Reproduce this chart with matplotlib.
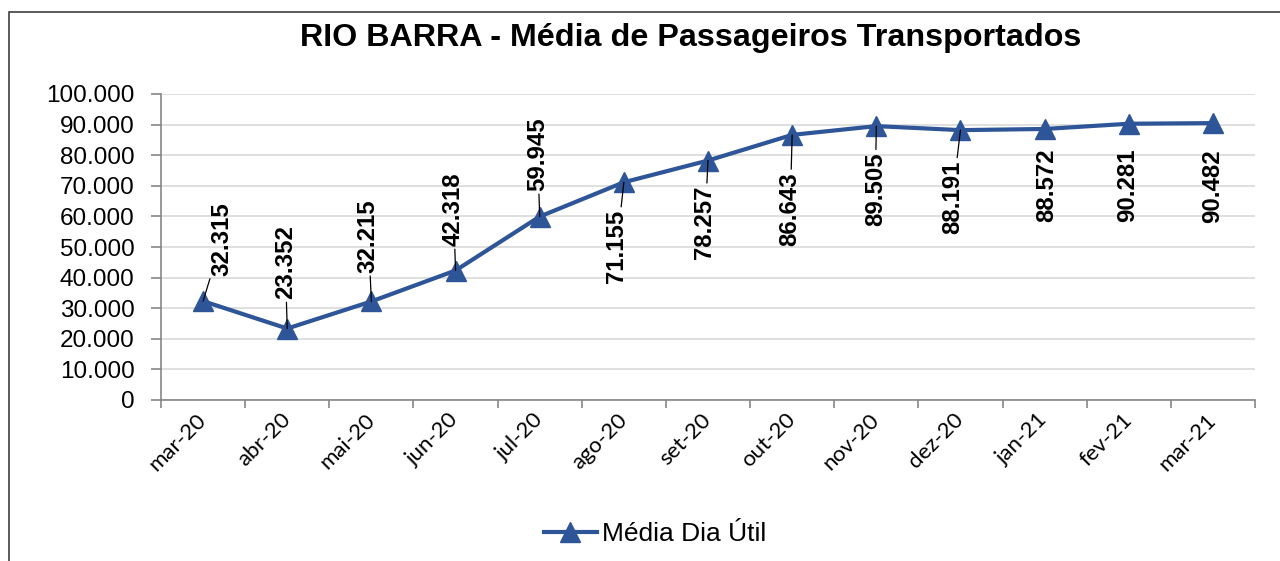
import matplotlib
matplotlib.use("Agg")
import matplotlib.pyplot as plt
from matplotlib.patches import Rectangle
from matplotlib.ticker import FuncFormatter, FixedLocator

# ---- data ----
months = ["mar-20", "abr-20", "mai-20", "jun-20", "jul-20", "ago-20", "set-20",
          "out-20", "nov-20", "dez-20", "jan-21", "fev-21", "mar-21"]
media_dia_util = [32315, 23352, 32215, 42318, 59945, 71155, 78257,
                  86643, 89505, 88191, 88572, 90281, 90482]
series_name = "Média Dia Útil"
title = "RIO BARRA - Média de Passageiros Transportados"
y_ticks = [0, 10000, 20000, 30000, 40000, 50000, 60000, 70000, 80000, 90000, 100000]

# ---- label placement (pixel offsets from point, style only) ----
label_dx = [19, -2, -3, -2, -2, -7, -3, -2, -1, -8, 2, -1, 0]
label_dy = [62, 66, 65, 61, 62, -64, -62, -74, -63, -67, -56, -62, -63]
leader = [True] * 10 + [False] * 3

LINE_C = "#2E5597"
AXIS_C = "#868686"
GRID_C = "#D9D9D9"

fig = plt.figure(figsize=(12.8, 5.61), dpi=100)
fig.patch.set_facecolor("white")

# chart frame (clipped at right/bottom like the reference)
fig.patches.append(Rectangle((9 / 1280, -0.2), 1.2, 1 - 12 / 561 + 0.2,
                             transform=fig.transFigure, fill=False,
                             edgecolor="#404040", linewidth=1.2))

ax = fig.add_axes([161 / 1280, 1 - 400 / 561, (1255 - 161) / 1280, 306 / 561])
x = list(range(len(months)))
ax.plot(x, media_dia_util, color=LINE_C, linewidth=3.0, marker="^",
        markersize=15, markerfacecolor=LINE_C, markeredgecolor=LINE_C,
        label=series_name, zorder=3, clip_on=False)

ax.set_xlim(-0.5, len(months) - 0.5)
ax.set_ylim(0, 100000)

ax.set_yticks(y_ticks)
ax.yaxis.set_major_formatter(FuncFormatter(lambda v, p: f"{v:,.0f}".replace(",", ".")))
ax.grid(axis="y", color=GRID_C, linewidth=1.2, zorder=0)
ax.set_axisbelow(True)

ax.set_xticks(x)
ax.set_xticklabels(months, rotation=45, ha="right", va="center",
                   rotation_mode="anchor", fontfamily="Lato", fontsize=16)
ax.xaxis.set_minor_locator(FixedLocator([i - 0.5 for i in range(len(months) + 1)]))
ax.tick_params(axis="x", which="major", length=0, pad=12)
ax.tick_params(axis="x", which="minor", length=6, width=1.2, color=AXIS_C, direction="out")
ax.tick_params(axis="y", which="major", length=7, width=1.2, color=AXIS_C,
               labelsize=17.5, pad=12)
for lbl in ax.get_yticklabels():
    lbl.set_fontfamily("Liberation Sans")

for s in ["top", "right"]:
    ax.spines[s].set_visible(False)
for s in ["left", "bottom"]:
    ax.spines[s].set_color(AXIS_C)
    ax.spines[s].set_linewidth(1.2)

# data labels
for i, v in enumerate(media_dia_util):
    txt = f"{v:,.0f}".replace(",", ".")
    props = dict(arrowstyle="-", color="black", lw=0.9, shrinkA=0, shrinkB=0) if leader[i] else None
    ax.annotate(txt, xy=(i, v), xytext=(label_dx[i], label_dy[i]),
                textcoords="offset pixels", rotation=90, ha="center", va="center",
                fontsize=17.3, fontweight="bold", fontfamily="Liberation Sans",
                arrowprops=props, zorder=4, annotation_clip=False)

fig.text(690.5 / 1280, 1 - 38 / 561, title, ha="center", va="center",
         fontsize=23.2, fontweight="bold", fontfamily="Liberation Sans")

leg = fig.legend(loc="center", bbox_to_anchor=(655 / 1280, 1 - 534 / 561),
                 frameon=False, prop={"family": "Liberation Sans", "size": 19},
                 handlelength=2.0, handletextpad=0.2, borderpad=0)

fig.savefig("out.png", dpi=100, facecolor="white")
